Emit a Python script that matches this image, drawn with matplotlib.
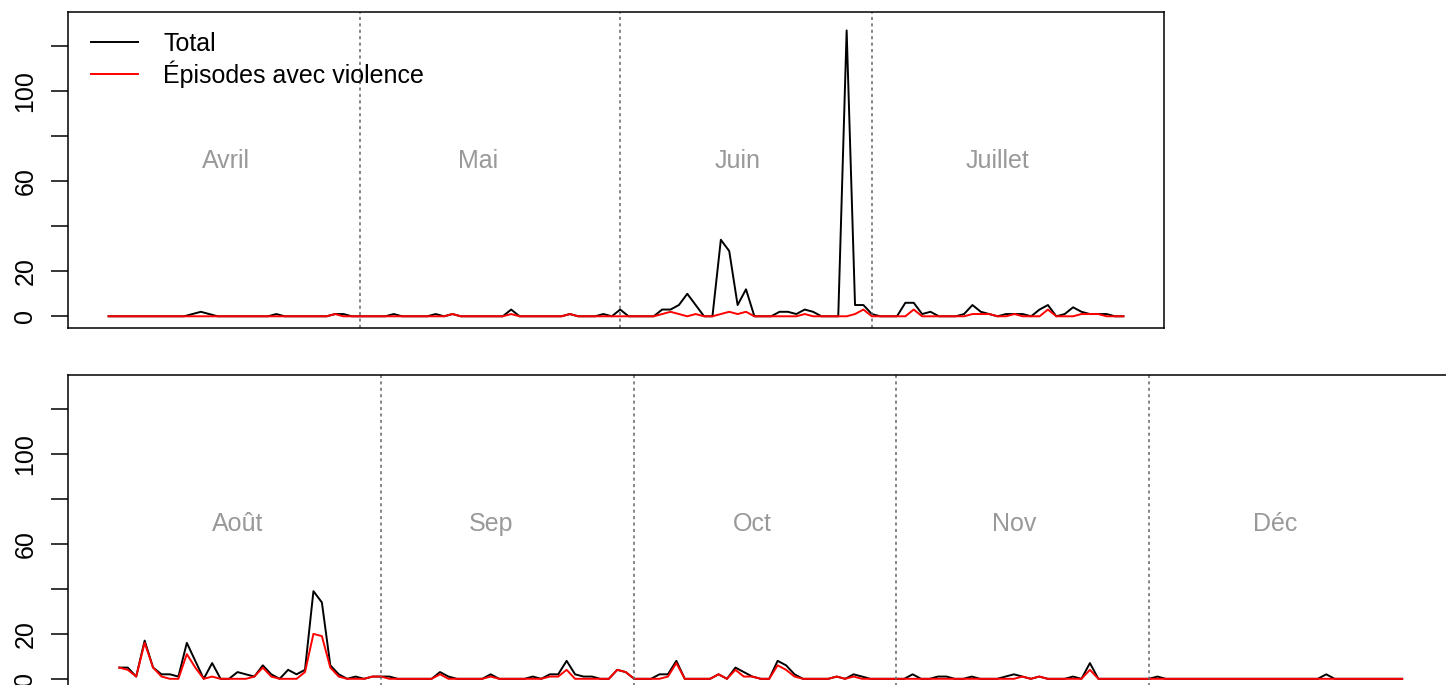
import matplotlib
matplotlib.use("Agg")
import matplotlib.pyplot as plt
import numpy as np

plt.rcParams['font.family'] = ['Liberation Sans', 'DejaVu Sans']

# ---- data (daily counts) ----
months_top = ["Avril", "Mai", "Juin", "Juillet"]
days_top = [30, 31, 30, 31]
months_bot = ["Août", "Sep", "Oct", "Nov", "Déc"]
days_bot = [31, 30, 31, 30, 31]

total_top = [
    0, 0, 0, 0, 0, 0, 0, 0, 0, 0,   1, 2, 1, 0, 0, 0, 0, 0, 0, 0,
    1, 0, 0, 0, 0, 0, 0, 1, 1, 0,   0, 0, 0, 0, 1, 0, 0, 0, 0, 1,
    0, 1, 0, 0, 0, 0, 0, 0, 3, 0,   0, 0, 0, 0, 0, 1, 0, 0, 0, 1,
    0, 3, 0, 0, 0, 0, 3, 3, 5, 10,  5, 0, 0, 34, 29, 5, 12, 0, 0, 0,
    2, 2, 1, 3, 2, 0, 0, 0, 127, 5, 5, 1, 0, 0, 0, 6, 6, 1, 2, 0,
    0, 0, 1, 5, 2, 1, 0, 1, 1, 1,   0, 3, 5, 0, 1, 4, 2, 1, 1, 1,
    0, 0,
]
violence_top = [
    0, 0, 0, 0, 0, 0, 0, 0, 0, 0,   0, 0, 0, 0, 0, 0, 0, 0, 0, 0,
    0, 0, 0, 0, 0, 0, 0, 1, 0, 0,   0, 0, 0, 0, 0, 0, 0, 0, 0, 0,
    0, 1, 0, 0, 0, 0, 0, 0, 1, 0,   0, 0, 0, 0, 0, 1, 0, 0, 0, 0,
    0, 0, 0, 0, 0, 0, 1, 2, 1, 0,   1, 0, 0, 1, 2, 1, 2, 0, 0, 0,
    0, 0, 0, 1, 0, 0, 0, 0, 0, 1,   3, 0, 0, 0, 0, 0, 3, 0, 0, 0,
    0, 0, 0, 1, 1, 1, 0, 0, 1, 0,   0, 0, 3, 0, 0, 0, 1, 1, 1, 0,
    0, 0,
]
total_bot = [
    5, 5, 1, 17, 5, 2, 2, 1, 16, 8,   0, 7, 0, 0, 3, 2, 1, 6, 2, 0,
    4, 2, 4, 39, 34, 6, 2, 0, 1, 0,   1, 1, 1, 0, 0, 0, 0, 0, 3, 1,
    0, 0, 0, 0, 2, 0, 0, 0, 0, 1,     0, 2, 2, 8, 2, 1, 1, 0, 0, 4,
    3, 0, 0, 0, 2, 2, 8, 0, 0, 0,     0, 2, 0, 5, 3, 1, 0, 0, 8, 6,
    2, 0, 0, 0, 0, 1, 0, 2, 1, 0,     0, 0, 0, 0, 2, 0, 0, 1, 1, 0,
    0, 1, 0, 0, 0, 1, 2, 1, 0, 1,     0, 0, 0, 1, 0, 7, 0, 0, 0, 0,
    0, 0, 0, 1, 0, 0, 0, 0, 0, 0,     0, 0, 0, 0, 0, 0, 0, 0, 0, 0,
    0, 0, 0, 2, 0, 0, 0, 0, 0, 0,     0, 0, 0,
]
violence_bot = [
    5, 4, 1, 16, 5, 1, 0, 0, 11, 5,   0, 1, 0, 0, 0, 0, 1, 5, 1, 0,
    0, 0, 3, 20, 19, 5, 1, 0, 0, 0,   1, 1, 0, 0, 0, 0, 0, 0, 2, 0,
    0, 0, 0, 0, 1, 0, 0, 0, 0, 0,     0, 1, 1, 4, 0, 0, 0, 0, 0, 4,
    3, 0, 0, 0, 0, 1, 7, 0, 0, 0,     0, 2, 0, 4, 1, 1, 0, 0, 6, 4,
    1, 0, 0, 0, 0, 1, 0, 1, 0, 0,     0, 0, 0, 0, 0, 0, 0, 0, 0, 0,
    0, 0, 0, 0, 0, 0, 0, 1, 0, 1,     0, 0, 0, 0, 0, 4, 0, 0, 0, 0,
    0, 0, 0, 0, 0, 0, 0, 0, 0, 0,     0, 0, 0, 0, 0, 0, 0, 0, 0, 0,
    0, 0, 0, 0, 0, 0, 0, 0, 0, 0,     0, 0, 0,
]

# layout: day index where each month name is centred
label_pos_top = [14, 44, 75, 106]
label_pos_bot = [14, 44, 75, 106, 137]

W, H = 1446, 685
fig = plt.figure(figsize=(W / 100, H / 100), dpi=100)


def px_axes(x0, y0, x1, y1):
    return fig.add_axes([x0 / W, 1 - y1 / H, (x1 - x0) / W, (y1 - y0) / H])


def draw_panel(ax, months, ndays, total, viol, label_pos):
    n = len(total)
    x = np.arange(n)
    ax.plot(x, total, color='black', lw=1.4, label='Total')
    ax.plot(x, viol, color='#ff0000', lw=1.4, label='Épisodes avec violence')
    ax.set_xlim(-0.04 * (n - 1), (n - 1) * 1.04)
    ax.set_ylim(-5.2, 135.2)
    ax.set_xticks([])
    ticks = [0, 20, 40, 60, 80, 100, 120]
    ax.set_yticks(ticks)
    ax.set_yticklabels(['0', '20', '', '60', '', '100', ''], rotation=90,
                       va='center', fontsize=18)
    ax.tick_params(axis='y', length=12, width=1.1, pad=10)
    for s in ax.spines.values():
        s.set_linewidth(1.1)
    start = 0
    for i, (m, d, p) in enumerate(zip(months, ndays, label_pos)):
        if i > 0:
            ax.axvline(start, color='#666666', lw=1.1, ls=(0, (2, 2.2)))
        ax.text(p, 69, m, color='#999999', fontsize=18,
                ha='center', va='center')
        start += d
    return ax


ax1 = px_axes(68, 12, 1164, 328)
draw_panel(ax1, months_top, days_top, total_top, violence_top, label_pos_top)
leg = ax1.legend(loc='upper left', bbox_to_anchor=(0.007, 0.985), frameon=False,
                 fontsize=18, handlelength=1.9, handletextpad=1.0,
                 labelspacing=0.2, borderaxespad=0.2)

ax2 = px_axes(68, 375, 1453.5, 690.5)
draw_panel(ax2, months_bot, days_bot, total_bot, violence_bot, label_pos_bot)

fig.savefig('out.png', dpi=100)
